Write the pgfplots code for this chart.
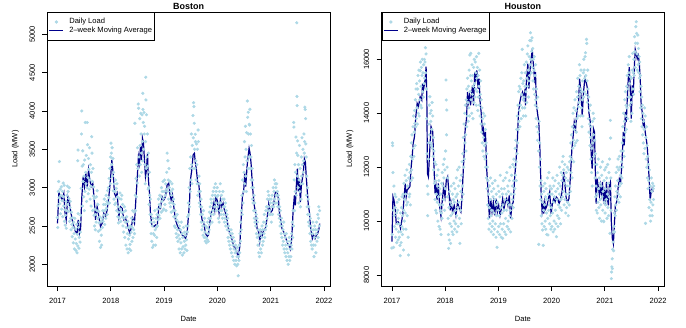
\documentclass[border=0pt]{standalone}
\usepackage{fontspec}
\setmainfont{Liberation Sans}
\usepackage{pgfplots}
\pgfplotsset{compat=1.18}
\definecolor{lb}{HTML}{ADD8E6}
\definecolor{db}{HTML}{00008B}
\pgfplotsset{rstyle/.style={
  scale only axis, height=273.7bp,
  xmin=2016.803, xmax=2022.117,
  scaled x ticks=false, scaled y ticks=false,
  axis line style={line width=0.75bp},
  tick align=outside, xtick pos=left, ytick pos=left,
  major tick length=5bp, tick style={black, line width=0.75bp},
  xtick={2017,2018,2019,2020,2021,2022},
  xticklabels={2017,2018,2019,2020,2021,2022},
  font=\fontsize{7.6}{9}\selectfont,
  xticklabel style={inner sep=0pt, anchor=north, font=\fontsize{7.6}{9}\selectfont},
  yticklabel style={rotate=90, inner sep=0pt, anchor=south, font=\fontsize{7.6}{9}\selectfont},
  xticklabel shift=7bp, yticklabel shift=7bp,
  xlabel={Date}, ylabel={Load (MW)},
  xlabel style={at={(axis description cs:0.5,-0.1304)}, anchor=base, inner sep=0pt},
  ylabel style={at={(axis description cs:-0.1047,0.5)}, anchor=base, inner sep=0pt},
  legend style={at={(0,1)}, anchor=north west, draw=black, line width=0.6bp, fill=white,
    inner xsep=1.5bp, inner ysep=5bp, font=\fontsize{7.6}{9}\selectfont,
    nodes={inner sep=0.8bp, text height=5.6bp, text depth=1.6bp}, row sep=0pt,
    /tikz/every odd column/.style={column sep=4.5bp}},
  legend cell align=left,
}}
\pgfplotsset{legend image code/.code={\draw[mark repeat=2,mark phase=2,#1] plot coordinates {(0bp,0bp) (7bp,0bp) (14bp,0bp)};}}
\begin{document}
\begin{tikzpicture}
\path[use as bounding box] (0,0) rectangle (686bp,328bp);
% ---------------- Boston ----------------
\begin{axis}[rstyle, name=bos, at={(47bp,42bp)}, anchor=south west, width=283.2bp,
  ymin=1717, ymax=5287, ytick={2000,2500,3000,3500,4000,4500,5000},
  yticklabels={2000,2500,3000,3500,4000,4500,5000}]
\addplot[only marks, mark=*, mark size=1.4bp, color=lb, mark options={draw=none, fill=lb}] coordinates {
(2016.998,2610)(2017.004,2480)(2017.010,2760)(2017.016,2950)(2017.022,3080)(2017.030,2870)(2017.036,3340)(2017.042,2790)(2017.050,2980)(2017.056,2660)(2017.064,2900)(2017.070,3010)(2017.078,2720)(2017.085,2830)(2017.092,2950)(2017.099,2620)(2017.106,3060)(2017.112,2880)(2017.118,2760)(2017.125,3030)(2017.131,2560)(2017.138,2710)(2017.145,2510)(2017.151,2640)(2017.158,2820)(2017.165,2470)(2017.172,2700)(2017.178,2900)(2017.185,3020)(2017.192,2780)(2017.199,2950)(2017.206,2690)(2017.213,2860)(2017.220,3000)(2017.227,2560)(2017.234,2740)(2017.241,2820)(2017.248,2600)(2017.255,2450)(2017.262,2680)(2017.269,2520)(2017.276,2360)(2017.283,2610)(2017.290,2480)(2017.297,2280)(2017.304,2550)(2017.311,2400)(2017.318,2200)(2017.325,2600)(2017.332,2330)(2017.339,2460)(2017.346,2180)(2017.353,2270)(2017.360,2520)(2017.367,2150)(2017.374,2390)(2017.380,3350)(2017.385,3490)(2017.381,2240)(2017.388,2660)(2017.395,2480)(2017.402,2210)(2017.409,2350)(2017.416,2550)(2017.423,2290)(2017.430,2420)
(2017.437,2640)(2017.444,2990)(2017.450,3700)(2017.456,4000)(2017.462,3280)(2017.468,2760)(2017.474,3480)(2017.480,3080)(2017.486,3300)(2017.492,2880)(2017.498,3150)(2017.504,2700)(2017.510,3360)(2017.516,2950)(2017.522,3850)(2017.528,3200)(2017.534,3050)(2017.540,3420)(2017.546,2820)(2017.552,3000)(2017.558,3850)(2017.564,3560)(2017.570,3130)(2017.576,2920)(2017.582,3380)(2017.588,3240)(2017.594,2980)(2017.600,3520)(2017.606,3100)(2017.612,2850)(2017.618,3300)(2017.624,3020)(2017.630,2760)(2017.636,3200)(2017.642,3665)(2017.648,3450)(2017.654,3080)(2017.660,2700)(2017.666,3250)(2017.672,2890)(2017.678,3010)(2017.684,2640)(2017.690,2860)(2017.696,2500)(2017.702,2720)
(2017.710,2450)(2017.717,2650)(2017.724,2550)(2017.731,2880)(2017.738,2700)(2017.745,2960)(2017.752,2600)(2017.759,2780)(2017.766,2430)(2017.773,2690)(2017.780,2540)(2017.787,2300)(2017.794,2620)(2017.801,2450)(2017.808,2220)(2017.815,2560)(2017.822,2380)(2017.829,2250)(2017.836,2600)(2017.843,2480)(2017.850,2700)(2017.857,2560)(2017.864,2780)(2017.871,2640)(2017.878,2850)(2017.885,2520)(2017.892,2700)(2017.899,2780)(2017.906,2600)(2017.913,2900)(2017.920,2730)(2017.927,2820)(2017.934,2650)(2017.941,2960)(2017.948,2790)(2017.955,3000)(2017.962,2870)(2017.969,3120)(2017.976,2800)(2017.983,3250)(2017.990,3050)
(2017.997,3400)(2018.004,3580)(2018.011,3450)(2018.018,3300)(2018.025,3520)(2018.032,3150)(2018.039,3380)(2018.046,2960)(2018.053,3200)(2018.060,2850)(2018.067,3050)(2018.074,2780)(2018.081,2950)(2018.088,3100)(2018.095,2800)(2018.102,2990)(2018.109,2700)(2018.116,3050)(2018.123,2880)(2018.130,2620)(2018.137,2750)(2018.144,2540)(2018.151,2680)(2018.158,2860)(2018.165,2600)(2018.172,2930)(2018.179,2720)(2018.186,2560)(2018.193,2850)(2018.200,2680)(2018.207,2900)(2018.214,2620)
(2018.221,2780)(2018.228,2500)(2018.235,2680)(2018.242,2420)(2018.249,2600)(2018.256,2750)(2018.263,2350)(2018.270,2550)(2018.277,2700)(2018.284,2250)(2018.291,2480)(2018.298,2620)(2018.305,2200)(2018.312,2400)(2018.319,2560)(2018.326,2150)(2018.333,2330)(2018.340,2480)(2018.347,2200)(2018.354,2380)(2018.361,2260)(2018.368,2500)(2018.375,2180)(2018.382,2420)(2018.389,2600)(2018.396,2300)(2018.403,2480)(2018.410,2700)(2018.417,2350)(2018.424,2560)(2018.431,2450)(2018.438,2680)(2018.445,2400)(2018.452,3840)
(2018.459,2900)(2018.466,2700)(2018.473,3120)(2018.480,2880)(2018.487,3300)(2018.494,3060)(2018.501,3520)(2018.508,3250)(2018.515,4090)(2018.522,4035)(2018.529,3400)(2018.536,3150)(2018.543,3900)(2018.550,3550)(2018.556,3300)(2018.562,3970)(2018.568,3700)(2018.574,3450)(2018.580,3200)(2018.586,3950)(2018.592,3600)(2018.600,4230)(2018.598,3350)(2018.604,4020)(2018.610,3850)(2018.616,3500)(2018.622,3980)(2018.628,3700)(2018.634,3800)(2018.640,3300)(2018.646,3050)(2018.652,3600)(2018.657,4440)(2018.660,4144)(2018.664,3250)(2018.670,3950)(2018.676,3400)(2018.682,3150)(2018.688,3700)(2018.694,3280)(2018.700,2980)(2018.706,3450)(2018.712,3000)(2018.718,2780)(2018.724,3200)(2018.730,2900)(2018.736,2650)(2018.742,2850)
(2018.749,2550)(2018.756,2400)(2018.763,2650)(2018.770,2300)(2018.777,2500)(2018.784,2220)(2018.791,2600)(2018.798,2400)(2018.805,2250)(2018.812,2550)(2018.819,2380)(2018.826,2700)(2018.833,2450)(2018.840,2250)(2018.847,2600)(2018.854,2480)(2018.861,2350)(2018.868,2650)(2018.875,2500)(2018.882,2720)(2018.889,2580)(2018.896,2850)(2018.903,2640)(2018.910,2780)(2018.917,2900)(2018.924,2600)(2018.931,2750)(2018.938,2880)(2018.945,2680)(2018.952,3000)(2018.959,2820)(2018.966,2950)(2018.973,2700)(2018.980,3080)(2018.987,2860)(2018.994,2720)
(2019.001,2950)(2019.008,3100)(2019.015,2780)(2019.022,2900)(2019.029,3050)(2019.036,2700)(2019.043,2980)(2019.050,3200)(2019.057,3450)(2019.064,2950)(2019.071,3350)(2019.078,3100)(2019.085,2850)(2019.092,3250)(2019.099,3000)(2019.106,2800)(2019.113,3080)(2019.120,2750)(2019.127,2950)(2019.134,2680)(2019.141,2900)(2019.148,3050)(2019.155,2800)(2019.162,2980)(2019.169,2700)(2019.176,2850)(2019.183,2620)(2019.190,2780)(2019.197,2500)
(2019.204,2700)(2019.211,2480)(2019.218,2620)(2019.225,2400)(2019.232,2580)(2019.239,2350)(2019.246,2650)(2019.253,2450)(2019.260,2300)(2019.267,2550)(2019.274,2380)(2019.281,2200)(2019.288,2500)(2019.295,2330)(2019.302,2150)(2019.309,2450)(2019.316,2280)(2019.323,2550)(2019.330,2200)(2019.337,2400)(2019.344,2120)(2019.351,2350)(2019.358,2230)(2019.365,2480)(2019.372,2150)(2019.379,2300)(2019.386,2420)(2019.393,2200)(2019.400,2380)(2019.407,2250)(2019.414,2500)(2019.421,2320)(2019.428,2180)(2019.435,2420)
(2019.442,2620)(2019.449,2500)(2019.456,2800)(2019.463,2650)(2019.470,3000)(2019.477,2750)(2019.484,3250)(2019.491,2950)(2019.498,3400)(2019.505,3100)(2019.512,3700)(2019.518,3300)(2019.524,3050)(2019.530,3550)(2019.536,3250)(2019.542,3940)(2019.548,3650)(2019.554,4108)(2019.560,4057)(2019.566,3840)(2019.572,3500)(2019.578,3250)(2019.584,3696)(2019.590,3600)(2019.596,3350)(2019.602,3100)(2019.608,3570)(2019.614,3300)(2019.620,3050)(2019.626,3500)(2019.632,2900)(2019.638,3752)(2019.644,3600)(2019.650,2950)(2019.656,3150)(2019.662,2800)(2019.668,3050)(2019.674,2750)(2019.680,2950)(2019.686,2650)(2019.692,2850)(2019.698,2550)(2019.704,2750)
(2019.711,2450)(2019.718,2650)(2019.725,2500)(2019.732,2380)(2019.739,2700)(2019.746,2550)(2019.753,2350)(2019.760,2600)(2019.767,2420)(2019.774,2300)(2019.781,2500)(2019.788,2350)(2019.795,2280)(2019.802,2480)(2019.809,2320)(2019.816,2550)(2019.823,2400)(2019.830,2300)(2019.837,2600)(2019.844,2450)(2019.851,2680)(2019.858,2520)(2019.865,2750)(2019.872,2600)(2019.879,2850)(2019.886,2650)(2019.893,2800)(2019.900,2550)(2019.907,2900)(2019.914,2700)(2019.921,2950)(2019.928,2650)(2019.935,2850)(2019.942,3000)(2019.949,2750)(2019.956,2900)(2019.963,3050)(2019.970,2800)(2019.977,2950)(2019.984,2700)(2019.991,2880)
(2019.998,3000)(2020.005,2750)(2020.012,2900)(2020.019,2600)(2020.026,2800)(2020.033,2550)(2020.040,2950)(2020.047,2700)(2020.054,3050)(2020.061,2800)(2020.068,2650)(2020.075,2900)(2020.082,2700)(2020.089,2850)(2020.096,2600)(2020.103,2950)(2020.110,2750)(2020.117,2650)(2020.124,2850)(2020.131,2550)(2020.138,2750)(2020.145,2600)(2020.152,2800)(2020.159,2500)(2020.166,2700)(2020.173,2550)(2020.180,2650)(2020.187,2450)(2020.194,2600)
(2020.201,2350)(2020.208,2500)(2020.215,2300)(2020.222,2450)(2020.229,2250)(2020.236,2400)(2020.243,2200)(2020.250,2350)(2020.257,2450)(2020.264,2150)(2020.271,2300)(2020.278,2400)(2020.285,2100)(2020.292,2250)(2020.299,2350)(2020.306,2050)(2020.313,2200)(2020.320,2300)(2020.327,2000)(2020.334,2150)(2020.341,2250)(2020.348,2050)(2020.355,2180)(2020.362,1980)(2020.369,2100)(2020.376,2220)(2020.383,2000)(2020.390,1850)(2020.397,2100)(2020.404,2050)(2020.411,2250)(2020.418,2150)(2020.425,2400)(2020.432,2300)(2020.439,2550)
(2020.446,2450)(2020.453,2700)(2020.460,2900)(2020.467,2650)(2020.474,3100)(2020.481,2800)(2020.488,3300)(2020.495,2950)(2020.502,3200)(2020.508,3600)(2020.514,3050)(2020.520,3400)(2020.526,3800)(2020.532,3150)(2020.538,3500)(2020.544,2950)(2020.550,3717)(2020.556,3350)(2020.562,4130)(2020.568,3917)(2020.574,3250)(2020.580,3983)(2020.586,3700)(2020.592,3400)(2020.598,3826)(2020.604,3817)(2020.610,4022)(2020.616,3250)(2020.622,3700)(2020.628,3400)(2020.634,3100)(2020.640,3550)(2020.646,3000)(2020.652,3250)(2020.658,2850)(2020.664,3100)(2020.670,2800)(2020.676,3000)(2020.682,2700)(2020.688,2900)(2020.694,2600)(2020.700,2800)(2020.706,2550)
(2020.713,2700)(2020.720,2500)(2020.727,2650)(2020.734,2400)(2020.741,2600)(2020.748,2350)(2020.755,2550)(2020.762,2250)(2020.769,2450)(2020.776,2150)(2020.783,2380)(2020.790,2100)(2020.797,2300)(2020.804,2450)(2020.811,2200)(2020.818,2400)(2020.825,2150)(2020.832,2350)(2020.839,2500)(2020.846,2250)(2020.853,2450)(2020.860,2300)(2020.867,2550)(2020.874,2400)(2020.881,2650)(2020.888,2350)(2020.895,2550)(2020.902,2450)(2020.909,2700)(2020.916,2500)(2020.923,2750)(2020.930,2600)(2020.937,2850)(2020.944,2700)(2020.951,2950)(2020.958,2750)(2020.965,2900)(2020.972,2650)(2020.979,2850)(2020.986,2700)(2020.993,2800)
(2021.000,2650)(2021.007,2850)(2021.014,2550)(2021.021,2750)(2021.028,2900)(2021.035,2650)(2021.042,2800)(2021.049,3000)(2021.056,2750)(2021.063,2950)(2021.070,3100)(2021.077,2850)(2021.084,3050)(2021.091,2800)(2021.098,3000)(2021.105,2900)(2021.112,3050)(2021.119,2800)(2021.126,2950)(2021.133,2750)(2021.140,2900)(2021.147,2650)(2021.154,2850)(2021.161,2600)(2021.168,2750)(2021.175,2500)(2021.182,2700)(2021.189,2550)(2021.196,2400)
(2021.203,2600)(2021.210,2350)(2021.217,2500)(2021.224,2250)(2021.231,2450)(2021.238,2300)(2021.245,2550)(2021.252,2200)(2021.259,2400)(2021.266,2150)(2021.273,2350)(2021.280,2250)(2021.287,2100)(2021.294,2400)(2021.301,2200)(2021.308,2050)(2021.315,2300)(2021.322,2150)(2021.329,2000)(2021.336,2250)(2021.343,2100)(2021.350,2350)(2021.357,2050)(2021.364,2200)(2021.371,2300)(2021.378,2100)(2021.385,2250)(2021.392,2400)(2021.399,2200)(2021.406,2550)(2021.413,2350)(2021.420,2700)
(2021.427,2500)(2021.432,3850)(2021.436,3790)(2021.441,3100)(2021.448,2700)(2021.454,3300)(2021.462,2950)(2021.468,3200)(2021.474,3660)(2021.480,2900)(2021.486,3450)(2021.490,5150)(2021.493,4190)(2021.496,4070)(2021.500,3150)(2021.505,3610)(2021.510,3420)(2021.516,3000)(2021.522,3300)(2021.528,2800)(2021.534,3100)(2021.540,3550)(2021.546,2950)(2021.552,3250)(2021.558,2750)(2021.564,3050)(2021.570,2850)(2021.576,3400)(2021.582,3150)(2021.588,3650)(2021.594,3300)(2021.600,3050)(2021.606,3500)(2021.612,3200)(2021.618,3350)(2021.624,3700)(2021.630,3450)(2021.636,3600)(2021.642,4050)(2021.648,4020)(2021.655,3900)(2021.660,3570)(2021.666,3400)(2021.672,2900)(2021.678,3150)(2021.684,2750)(2021.690,3000)(2021.696,2650)(2021.702,2850)(2021.708,2550)
(2021.715,2750)(2021.722,2500)(2021.729,2650)(2021.736,2400)(2021.743,2600)(2021.750,2300)(2021.757,2500)(2021.764,2250)(2021.771,2450)(2021.778,2200)(2021.785,2400)(2021.792,2550)(2021.799,2250)(2021.806,2450)(2021.813,2100)(2021.820,2350)(2021.827,2500)(2021.834,2250)(2021.841,2450)(2021.848,2150)(2021.855,2400)(2021.862,2550)(2021.869,2300)(2021.876,2450)(2021.883,2650)(2021.890,2350)(2021.897,2600)(2021.904,2750)(2021.911,2500)(2021.918,2700)
};
\addlegendentry{Daily Load}
\addplot[color=db, line width=1.2bp, no marks, sharp plot] coordinates {
(2017.000,2535)(2017.026,2935)(2017.057,2883)(2017.088,2840)(2017.119,2926)(2017.138,2687)(2017.163,2579)(2017.194,2883)(2017.213,2840)(2017.244,2709)(2017.276,2579)(2017.307,2492)(2017.338,2427)(2017.369,2405)(2017.388,2579)(2017.413,2405)(2017.432,2448)(2017.457,2883)(2017.482,3144)(2017.507,3013)(2017.532,3187)(2017.557,2992)(2017.582,3231)(2017.607,3100)(2017.632,3013)(2017.663,3057)(2017.694,2796)(2017.713,2579)(2017.744,2753)(2017.776,2622)(2017.807,2492)(2017.838,2535)(2017.869,2666)(2017.901,2622)(2017.932,2709)(2017.963,2883)(2017.994,3100)(2018.019,3361)(2018.044,3187)(2018.069,2926)(2018.094,2883)
(2018.119,2926)(2018.151,2622)(2018.182,2752)(2018.213,2731)(2018.245,2579)(2018.276,2600)(2018.307,2535)(2018.338,2448)(2018.357,2405)(2018.382,2470)(2018.413,2600)(2018.444,2535)(2018.470,2839)(2018.494,3100)(2018.519,3404)(2018.538,3318)(2018.557,3535)(2018.576,3361)(2018.594,3644)(2018.613,3578)(2018.632,3361)(2018.651,3144)(2018.669,3231)(2018.688,3448)(2018.707,3100)(2018.726,2926)(2018.744,2665)(2018.770,2513)(2018.807,2491)(2018.838,2513)(2018.870,2491)(2018.901,2752)(2018.932,2731)(2018.963,2883)(2018.995,2839)(2019.026,2883)(2019.057,3035)(2019.088,3057)(2019.107,2926)(2019.132,2839)(2019.157,2905)(2019.182,2752)(2019.213,2579)(2019.245,2513)(2019.276,2470)(2019.307,2426)(2019.338,2383)(2019.370,2361)(2019.401,2339)
(2019.432,2405)(2019.451,2579)(2019.476,2796)(2019.494,3100)(2019.520,3231)(2019.545,3426)(2019.569,3448)(2019.588,3318)(2019.607,3231)(2019.632,3057)(2019.651,3057)(2019.670,2883)(2019.695,2666)(2019.713,2579)(2019.745,2535)(2019.776,2405)(2019.807,2361)(2019.832,2383)(2019.857,2535)(2019.882,2666)(2019.907,2709)(2019.932,2796)(2019.951,2709)(2019.970,2883)(2019.995,2839)(2020.013,2752)(2020.032,2666)(2020.057,2839)(2020.082,2752)(2020.107,2796)(2020.132,2709)(2020.157,2666)(2020.182,2579)(2020.213,2448)(2020.245,2383)(2020.276,2318)(2020.307,2231)(2020.338,2209)(2020.370,2144)(2020.395,2100)(2020.420,2231)(2020.445,2579)(2020.470,2883)(2020.495,2970)(2020.513,3187)(2020.532,3013)(2020.557,3274)(2020.576,3404)(2020.595,3513)(2020.613,3448)(2020.632,3318)(2020.651,3100)(2020.670,2926)(2020.695,2752)(2020.720,2666)
(2020.745,2466)(2020.776,2422)(2020.795,2292)(2020.820,2422)(2020.845,2379)(2020.870,2444)(2020.901,2466)(2020.932,2596)(2020.963,2791)(2020.982,2726)(2021.007,2683)(2021.032,2705)(2021.057,2791)(2021.088,2944)(2021.120,2944)(2021.145,2857)(2021.163,2683)(2021.182,2596)(2021.213,2466)(2021.245,2422)(2021.276,2357)(2021.307,2292)(2021.338,2248)(2021.370,2196)(2021.395,2335)(2021.420,2683)(2021.445,2900)(2021.463,2770)(2021.482,3031)(2021.501,3248)(2021.520,2944)(2021.538,3118)(2021.557,2813)(2021.576,3031)(2021.595,3118)(2021.613,3204)(2021.632,3378)(2021.651,3335)(2021.670,3118)(2021.688,2944)(2021.707,2770)(2021.726,2683)(2021.745,2509)(2021.763,2422)(2021.782,2335)(2021.807,2379)(2021.832,2335)(2021.857,2379)(2021.882,2400)(2021.907,2466)(2021.920,2531)
};
\addlegendentry{2–week Moving Average}
\end{axis}
\node[anchor=base, inner sep=0pt, font=\bfseries\fontsize{9}{10}\selectfont] at ([yshift=3bp]bos.north) {Boston};
% ---------------- Houston ----------------
\begin{axis}[rstyle, name=hou, at={(381.5bp,42bp)}, anchor=south west, width=282.8bp,
  ymin=7592, ymax=17745, ytick={8000,10000,12000,14000,16000},
  yticklabels={8000,10000,12000,14000,16000}]
\addplot[only marks, mark=*, mark size=1.4bp, color=lb, mark options={draw=none, fill=lb}] coordinates {
(2016.998,9000)(2017.004,9500)(2017.008,12900)(2017.012,12800)(2017.018,11800)(2017.024,10400)(2017.030,9026)(2017.036,11300)(2017.042,10200)(2017.048,9800)(2017.054,11000)(2017.060,10500)(2017.066,9400)(2017.072,10900)(2017.078,9700)(2017.084,10300)(2017.090,9200)(2017.096,10700)(2017.102,9900)(2017.108,10400)(2017.114,9300)(2017.120,10100)(2017.126,9600)(2017.132,10800)(2017.138,9400)(2017.144,9900)(2017.150,9100)(2017.155,8717)(2017.160,10300)(2017.166,9600)(2017.172,9200)(2017.178,10500)(2017.184,9800)(2017.190,10900)(2017.196,9500)(2017.202,10200)(2017.208,11000)(2017.214,9700)(2017.217,8927)(2017.220,10400)(2017.226,11400)(2017.232,10000)(2017.238,10800)(2017.244,11700)(2017.250,10300)(2017.256,11000)(2017.262,9700)(2017.268,11500)(2017.274,10600)(2017.280,11900)(2017.286,10200)(2017.292,11300)(2017.298,10700)(2017.304,9400)(2017.311,8741)(2017.316,11600)(2017.322,10900)(2017.328,12100)(2017.334,11000)(2017.340,11800)(2017.346,10600)(2017.352,12400)(2017.358,11500)
(2017.364,12900)(2017.370,11900)(2017.376,13200)(2017.382,12300)(2017.388,11600)(2017.394,13500)(2017.400,12700)(2017.406,13900)(2017.412,12400)(2017.418,13300)(2017.424,14100)(2017.429,13625)(2017.434,12800)(2017.440,14500)(2017.446,13500)(2017.452,14900)(2017.458,13800)(2017.464,15100)(2017.470,14200)(2017.476,13600)
(2017.482,14900)(2017.488,15400)(2017.494,14000)(2017.500,14700)(2017.506,15600)(2017.512,13900)(2017.518,15200)(2017.524,14500)(2017.529,15578)(2017.534,15900)(2017.540,14300)(2017.546,15000)(2017.552,15700)(2017.558,14200)(2017.564,15400)(2017.570,16000)(2017.576,14800)(2017.582,15500)(2017.588,14600)(2017.594,15800)(2017.600,15100)(2017.608,16000)(2017.614,15300)(2017.620,15900)(2017.628,16431)(2017.634,15500)(2017.640,16200)(2017.646,14900)
(2017.652,13800)(2017.658,12500)(2017.664,11300)(2017.670,10200)(2017.676,11000)(2017.682,12300)(2017.688,12900)(2017.694,13600)(2017.700,14300)(2017.706,13200)(2017.712,14614)(2017.718,13996)(2017.724,12900)(2017.730,13700)(2017.736,14100)(2017.742,12800)(2017.748,13400)(2017.754,14400)(2017.760,12700)(2017.766,13900)(2017.772,12400)(2017.778,13100)(2017.784,11900)(2017.790,12600)
(2017.796,11400)(2017.802,12200)(2017.808,10800)(2017.814,11500)(2017.820,10400)(2017.826,12100)(2017.832,11000)(2017.838,10300)(2017.844,11700)(2017.850,10700)(2017.856,11300)(2017.862,10000)(2017.868,11900)(2017.874,10900)(2017.880,11500)(2017.886,9800)(2017.892,10600)(2017.898,11200)(2017.904,9700)(2017.910,10400)(2017.916,11000)(2017.922,9500)(2017.928,10300)(2017.934,11400)(2017.940,10100)(2017.946,11800)(2017.952,10600)(2017.958,11300)(2017.964,12100)(2017.970,10800)(2017.976,11600)(2017.982,12300)(2017.988,10400)(2017.994,11900)
(2018.000,11200)(2018.008,12600)(2018.015,15232)(2018.020,14490)(2018.025,13200)(2018.030,14119)(2018.036,12000)(2018.042,10900)(2018.048,11600)(2018.054,10100)(2018.060,9500)(2018.064,8989)(2018.070,10500)(2018.076,9300)(2018.082,11100)(2018.088,9900)(2018.094,10700)(2018.101,9174)(2018.106,10200)(2018.112,11300)(2018.118,9800)(2018.124,10600)(2018.130,9600)(2018.136,11000)(2018.142,10300)(2018.148,9500)(2018.154,10800)(2018.160,11400)(2018.166,10000)(2018.172,10700)(2018.178,9700)(2018.184,11200)(2018.190,10400)(2018.196,9900)(2018.202,10900)(2018.208,11600)(2018.214,10200)(2018.220,9600)(2018.226,11000)(2018.232,11900)(2018.238,10500)(2018.244,9800)(2018.250,11300)(2018.256,10700)(2018.262,12000)(2018.268,10100)(2018.276,9174)(2018.282,11500)(2018.288,10400)(2018.294,11100)(2018.300,9900)(2018.306,11700)(2018.312,10800)(2018.318,12200)
(2018.324,11300)(2018.330,12500)(2018.336,11000)(2018.342,13100)(2018.348,12000)(2018.354,13600)(2018.360,12300)(2018.366,14000)(2018.372,12900)(2018.378,14300)(2018.384,13200)(2018.390,12600)(2018.396,14500)(2018.402,13500)(2018.408,14900)(2018.414,13900)
(2018.420,15300)(2018.426,14400)(2018.432,13700)(2018.438,15000)(2018.444,14200)(2018.450,15600)(2018.456,13900)(2018.463,16159)(2018.468,14800)(2018.474,15400)(2018.480,16221)(2018.486,14500)(2018.492,15200)(2018.498,14000)(2018.504,15800)(2018.510,14700)(2018.516,15400)(2018.522,13800)(2018.528,15000)(2018.534,15700)(2018.540,14400)(2018.546,16000)(2018.552,15100)(2018.558,14600)(2018.564,15900)(2018.570,14900)(2018.576,15500)(2018.582,14300)(2018.588,16100)(2018.594,15300)(2018.600,14800)(2018.606,15700)(2018.612,14100)(2018.618,15400)(2018.624,14600)(2018.630,16221)(2018.636,15000)(2018.642,14300)(2018.648,15600)(2018.654,13900)(2018.660,14700)(2018.666,15200)(2018.672,13600)(2018.678,14500)(2018.684,13300)(2018.690,14200)(2018.696,12900)(2018.702,13800)(2018.708,12600)(2018.714,14000)(2018.720,13100)(2018.726,12400)(2018.732,13600)(2018.738,12800)(2018.744,13900)(2018.750,12300)(2018.756,13400)(2018.762,12000)(2018.768,12900)(2018.774,11600)(2018.780,12500)
(2018.786,11200)(2018.792,12000)(2018.798,10600)(2018.804,11500)(2018.810,10100)(2018.816,11000)(2018.822,9700)(2018.828,10500)(2018.834,11300)(2018.840,9900)(2018.846,10800)(2018.852,11600)(2018.858,10200)(2018.864,9600)(2018.870,11100)(2018.876,10400)(2018.882,9800)(2018.888,11400)(2018.894,10000)(2018.900,10900)(2018.906,9500)(2018.912,11200)(2018.918,10300)(2018.924,9700)(2018.930,10800)(2018.936,11500)(2018.942,9900)(2018.948,10600)(2018.954,9400)(2018.960,11000)(2018.966,10200)(2018.974,9026)(2018.980,10700)(2018.986,9600)(2018.992,11300)(2018.998,10400)
(2019.004,9800)(2019.010,11100)(2019.016,10200)(2019.022,9500)(2019.028,10900)(2019.034,11700)(2019.040,9900)(2019.046,10500)(2019.052,9400)(2019.058,11200)(2019.064,10300)(2019.070,9700)(2019.076,11000)(2019.080,9360)(2019.086,10600)(2019.092,11500)(2019.098,9900)(2019.104,10400)(2019.110,11200)(2019.116,9600)(2019.122,10800)(2019.128,11600)(2019.134,10100)(2019.140,9500)(2019.146,11000)(2019.152,10400)(2019.158,11800)(2019.164,9800)(2019.170,10700)(2019.176,11300)(2019.182,10000)(2019.188,11100)(2019.194,9700)(2019.200,10600)(2019.206,11500)(2019.212,10200)(2019.218,12000)(2019.224,10400)(2019.230,9600)(2019.236,11000)(2019.242,10600)(2019.248,11700)(2019.254,10100)(2019.260,11300)(2019.266,10800)(2019.272,12100)(2019.278,10500)(2019.284,11500)(2019.290,12300)(2019.296,11000)
(2019.302,12000)(2019.308,11200)(2019.314,12700)(2019.320,11700)(2019.326,13000)(2019.332,12200)(2019.338,11500)(2019.344,13400)(2019.350,12500)(2019.356,13900)(2019.362,12900)(2019.368,14300)(2019.374,13400)(2019.380,14800)(2019.386,13700)(2019.392,15000)(2019.398,14100)(2019.404,13500)(2019.410,14900)(2019.416,14300)(2019.422,15300)(2019.428,13800)(2019.434,14700)(2019.440,15500)(2019.447,16370)(2019.452,14200)(2019.458,15100)(2019.464,14500)(2019.470,13900)(2019.476,15200)(2019.482,14600)(2019.488,15800)(2019.494,14200)(2019.500,15000)
(2019.506,15500)(2019.512,13900)(2019.518,14800)(2019.524,15900)(2019.530,14400)(2019.536,15300)(2019.542,16200)(2019.548,15000)(2019.554,16500)(2019.560,15600)(2019.566,14600)(2019.572,15200)(2019.578,16100)(2019.584,15400)(2019.590,16700)(2019.596,15800)(2019.603,16988)(2019.608,16000)(2019.614,16690)(2019.620,15500)(2019.626,16300)(2019.632,16800)(2019.638,15700)(2019.644,16400)(2019.650,15200)(2019.656,16000)(2019.662,14900)(2019.668,15600)(2019.674,16100)(2019.680,14700)(2019.686,15400)(2019.692,14300)(2019.698,15800)(2019.704,14500)(2019.710,13800)(2019.716,14900)(2019.722,13500)(2019.728,14200)(2019.734,13000)(2019.740,14600)(2019.746,13300)(2019.752,12600)(2019.758,9137)(2019.764,13700)(2019.770,12000)(2019.776,12900)(2019.782,11300)(2019.788,12300)(2019.794,10800)
(2019.800,11500)(2019.806,10200)(2019.812,11000)(2019.818,9900)(2019.824,10700)(2019.830,9669)(2019.836,11300)(2019.842,9100)(2019.848,10400)(2019.854,11100)(2019.860,9800)(2019.866,10600)(2019.872,11400)(2019.878,10000)(2019.884,10900)(2019.890,9700)(2019.896,11200)(2019.902,10300)(2019.908,9500)(2019.914,10800)(2019.920,11600)(2019.926,10100)(2019.932,9483)(2019.938,11000)(2019.944,10400)(2019.950,11800)(2019.956,10600)(2019.962,9900)(2019.968,11300)(2019.974,10200)(2019.980,11000)(2019.986,9700)(2019.992,10500)(2019.998,11200)
(2020.004,9800)(2020.010,11000)(2020.016,10300)(2020.022,11600)(2020.028,9600)(2020.034,10700)(2020.040,11300)(2020.046,10000)(2020.052,10900)(2020.058,9700)(2020.064,11500)(2020.070,10400)(2020.076,11100)(2020.082,9900)(2020.090,9422)(2020.096,10800)(2020.102,11700)(2020.108,10200)(2020.114,11200)(2020.120,9800)(2020.126,10600)(2020.132,11400)(2020.138,10100)(2020.144,11000)(2020.150,12000)(2020.156,10500)(2020.162,11300)(2020.168,9900)(2020.174,10800)(2020.180,11800)(2020.186,10400)(2020.192,11500)(2020.198,12200)(2020.204,10900)(2020.210,11700)(2020.216,12400)(2020.222,11100)(2020.228,11900)(2020.234,10600)(2020.240,11400)(2020.246,12100)(2020.252,10800)(2020.258,11600)(2020.264,10300)(2020.270,11000)(2020.276,11800)(2020.282,10500)(2020.288,11300)(2020.294,12000)(2020.300,10700)(2020.306,11500)(2020.312,10200)(2020.318,11000)(2020.324,11900)(2020.330,10600)(2020.336,12200)(2020.342,11300)
(2020.348,12400)(2020.354,11100)(2020.360,12900)(2020.366,11800)(2020.372,13200)(2020.378,12300)(2020.384,11600)(2020.390,13500)(2020.396,12700)(2020.402,14000)(2020.408,13000)(2020.414,12200)(2020.420,14200)(2020.426,13400)(2020.432,12800)(2020.438,14500)(2020.444,13600)(2020.450,12900)(2020.456,14100)(2020.462,13300)(2020.468,14800)(2020.474,13800)(2020.480,12985)(2020.486,14600)(2020.492,15300)(2020.498,13900)(2020.504,14243)
(2020.510,15000)(2020.516,14400)(2020.522,15800)(2020.528,14700)(2020.534,15400)(2020.540,13900)(2020.546,14900)(2020.552,15600)(2020.558,14200)(2020.564,14800)(2020.570,13500)(2020.576,14500)(2020.582,15200)(2020.588,13900)(2020.594,15500)(2020.600,14600)(2020.604,16000)(2020.610,15603)(2020.616,14800)(2020.622,15300)(2020.628,16100)(2020.636,16246)(2020.642,15400)(2020.648,14700)(2020.655,16740)(2020.660,16592)(2020.666,15200)(2020.672,14400)(2020.678,15600)(2020.684,14900)(2020.690,13800)(2020.696,14600)(2020.702,13300)(2020.708,14100)(2020.714,13600)(2020.720,12800)(2020.726,14300)(2020.732,13100)(2020.738,12300)(2020.744,13500)(2020.750,11800)(2020.756,12700)(2020.762,11300)(2020.768,13700)(2020.774,12900)(2020.780,14000)(2020.786,13200)(2020.792,12400)(2020.798,13800)(2020.804,12100)(2020.810,13000)(2020.816,11600)(2020.822,12500)(2020.828,10900)
(2020.834,11300)(2020.840,10400)(2020.846,12100)(2020.852,11000)(2020.858,10300)(2020.864,11800)(2020.870,10700)(2020.876,12300)(2020.882,11200)(2020.888,10500)(2020.894,11600)(2020.900,10100)(2020.906,11400)(2020.912,10800)(2020.918,12000)(2020.924,10600)(2020.930,11300)(2020.936,10000)(2020.942,11700)(2020.948,10900)(2020.954,12200)(2020.960,10400)(2020.966,11100)(2020.972,10000)(2020.980,9978)(2020.986,11500)(2020.992,10700)(2020.998,11900)(2021.004,10300)(2021.010,11200)(2021.016,10600)(2021.022,12000)(2021.028,10800)(2021.034,11600)(2021.040,10100)(2021.046,11000)(2021.052,12100)(2021.058,10500)(2021.064,11400)(2021.070,10200)(2021.076,11800)(2021.082,10900)(2021.088,12300)(2021.095,9545)(2021.100,11200)(2021.104,13736)(2021.108,13081)(2021.112,11600)(2021.116,10400)(2021.122,7864)(2021.126,8111)(2021.132,8300)(2021.138,8600)(2021.141,8235)(2021.146,8951)(2021.152,9224)(2021.158,9595)(2021.164,8900)(2021.170,9800)(2021.176,10300)(2021.182,9600)(2021.188,10900)(2021.194,10200)(2021.200,11300)(2021.206,10600)(2021.212,11800)(2021.218,10400)(2021.224,11100)(2021.230,12000)(2021.236,10800)(2021.242,11500)(2021.248,12300)(2021.254,11000)(2021.260,11900)(2021.266,10700)(2021.272,12400)(2021.278,11300)(2021.284,12000)(2021.290,10900)(2021.296,11700)(2021.302,12600)(2021.308,11400)
(2021.314,12200)(2021.320,11600)(2021.326,12900)(2021.332,12000)(2021.338,13500)(2021.344,12600)(2021.350,14000)(2021.356,13100)(2021.362,12400)(2021.368,13700)(2021.374,14500)(2021.380,13300)(2021.386,14800)(2021.392,13900)(2021.398,14300)(2021.404,13400)(2021.410,15000)(2021.416,14200)(2021.422,15400)(2021.428,13800)(2021.434,14900)(2021.440,15800)(2021.446,14600)(2021.452,15500)
(2021.458,16100)(2021.464,15100)(2021.470,14300)(2021.478,15356)(2021.484,14600)(2021.490,13700)(2021.496,14400)(2021.502,15300)(2021.508,14000)(2021.514,15600)(2021.521,16221)(2021.526,14900)(2021.532,15500)(2021.538,14700)(2021.544,16000)(2021.550,15400)(2021.559,16840)(2021.564,16283)(2021.570,15700)(2021.576,16600)(2021.582,17210)(2021.590,17396)(2021.596,16963)(2021.602,16200)(2021.608,15600)(2021.614,16592)(2021.620,16900)(2021.626,15800)(2021.632,16400)(2021.638,15500)(2021.644,16100)(2021.650,15300)(2021.656,15900)(2021.662,14800)(2021.668,15400)(2021.674,14200)(2021.680,15000)(2021.686,13800)(2021.692,14600)(2021.698,13500)(2021.704,14300)(2021.710,13200)(2021.716,14000)(2021.722,12900)(2021.728,13700)(2021.734,12500)(2021.740,13400)(2021.746,14200)(2021.752,12700)(2021.758,13900)(2021.764,9916)(2021.770,13100)(2021.776,12300)(2021.782,13500)(2021.788,12000)(2021.794,12800)(2021.800,11600)(2021.806,12400)(2021.812,11200)(2021.818,12100)
(2021.824,11500)(2021.830,10500)(2021.836,11900)(2021.842,10800)(2021.848,10200)(2021.854,11300)(2021.860,10000)(2021.866,10700)(2021.872,11600)(2021.878,10400)(2021.884,11100)(2021.890,10200)(2021.896,11400)(2021.902,10600)(2021.908,11200)(2021.914,10800)(2021.918,11300)
};
\addlegendentry{Daily Load}
\addplot[color=db, line width=1.2bp, no marks, sharp plot] coordinates {
(2017.000,9236)(2017.018,10905)(2017.037,10781)(2017.062,10411)(2017.080,9916)(2017.112,9978)(2017.143,9916)(2017.161,9731)(2017.186,10040)(2017.205,10287)(2017.224,10781)(2017.249,11400)(2017.267,10905)(2017.286,11152)(2017.311,11214)(2017.336,11276)(2017.361,12018)(2017.379,12389)(2017.398,12883)(2017.423,13131)(2017.448,13872)(2017.473,14367)(2017.498,14243)(2017.529,14614)(2017.560,14491)(2017.575,15109)(2017.591,14861)(2017.622,15232)(2017.641,15727)(2017.655,14491)(2017.666,11771)(2017.684,11647)(2017.703,12389)(2017.734,13501)(2017.766,13316)(2017.784,12265)(2017.809,11029)(2017.828,11276)(2017.846,10781)(2017.871,11400)(2017.896,10534)(2017.921,10163)(2017.946,10781)(2017.971,11276)(2017.996,10905)(2018.021,11523)(2018.046,11647)(2018.071,11029)(2018.095,10400)
(2018.108,10708)(2018.139,10337)(2018.170,10584)(2018.201,10213)(2018.233,10708)(2018.264,10460)(2018.295,10337)(2018.314,10832)(2018.332,11573)(2018.357,12562)(2018.376,13427)(2018.401,13798)(2018.419,14787)(2018.438,14417)(2018.457,14664)(2018.476,14293)(2018.494,14664)(2018.513,15035)(2018.532,14293)(2018.556,15529)(2018.575,15282)(2018.594,15591)(2018.619,14911)(2018.637,15282)(2018.656,14417)(2018.675,14046)(2018.700,13304)(2018.718,13427)(2018.737,12933)(2018.756,13304)(2018.781,11891)(2018.806,11078)(2018.831,10089)(2018.855,10832)(2018.880,10337)(2018.905,10708)(2018.930,10213)(2018.955,10832)(2018.980,10337)(2019.005,10584)(2019.030,10213)(2019.055,10460)(2019.080,10832)(2019.104,10460)(2019.129,10708)(2019.154,10832)(2019.179,10584)(2019.204,10955)(2019.229,10089)(2019.254,10584)(2019.279,10708)(2019.304,11573)(2019.329,12191)(2019.354,12933)(2019.379,14046)(2019.403,14417)(2019.428,14664)(2019.453,14787)(2019.478,14540)(2019.503,14911)
(2019.509,14293)(2019.528,15282)(2019.553,15838)(2019.572,14911)(2019.590,15529)(2019.615,16024)(2019.634,16370)(2019.653,15900)(2019.678,15282)(2019.696,15529)(2019.715,14293)(2019.740,13922)(2019.758,13675)(2019.777,12809)(2019.790,11944)(2019.802,11078)(2019.821,10337)(2019.840,10584)(2019.852,10275)(2019.871,10708)(2019.889,10460)(2019.914,10584)(2019.939,10832)(2019.964,11078)(2019.989,10275)(2020.014,10646)(2020.039,10832)(2020.064,10708)(2020.089,10893)(2020.113,10832)(2020.138,10646)(2020.163,10769)(2020.195,11078)(2020.226,11820)(2020.251,11326)(2020.275,10832)(2020.300,10708)(2020.325,10832)(2020.350,11573)(2020.381,12686)(2020.400,13056)(2020.425,13674)(2020.450,13427)(2020.475,14046)(2020.506,14417)(2020.525,15282)(2020.549,14787)(2020.574,13922)(2020.599,14787)(2020.624,15282)(2020.649,15158)(2020.674,14911)(2020.699,14046)
(2020.724,13700)(2020.742,12562)(2020.761,11944)(2020.786,13427)(2020.805,13304)(2020.823,11697)(2020.836,10646)(2020.855,11573)(2020.873,11326)(2020.898,10955)(2020.917,11326)(2020.936,11017)(2020.954,11449)(2020.973,10832)(2020.992,11078)(2021.010,10584)(2021.029,11449)(2021.048,10832)(2021.066,10584)(2021.085,11326)(2021.104,11449)(2021.122,9966)(2021.141,9348)(2021.160,9162)(2021.178,9842)(2021.197,10584)(2021.222,10708)(2021.247,11202)(2021.272,11573)(2021.297,11449)(2021.322,12191)(2021.347,13304)(2021.365,12809)(2021.384,14046)(2021.403,13675)(2021.421,14540)(2021.440,15282)(2021.459,15714)(2021.477,14911)(2021.496,13798)(2021.515,15035)(2021.533,14664)(2021.552,15653)(2021.571,16370)(2021.590,16209)(2021.608,16024)(2021.627,16147)(2021.646,15900)(2021.664,15282)(2021.683,14293)(2021.702,14046)(2021.720,13551)(2021.739,13675)(2021.758,13304)(2021.776,13056)(2021.795,12809)(2021.814,12191)(2021.832,11573)(2021.851,10770)(2021.870,11078)(2021.888,11202)(2021.907,11078)
};
\addlegendentry{2–week Moving Average}
\end{axis}
\node[anchor=base, inner sep=0pt, font=\bfseries\fontsize{9}{10}\selectfont] at ([yshift=3bp]hou.north) {Houston};
\end{tikzpicture}
\end{document}
